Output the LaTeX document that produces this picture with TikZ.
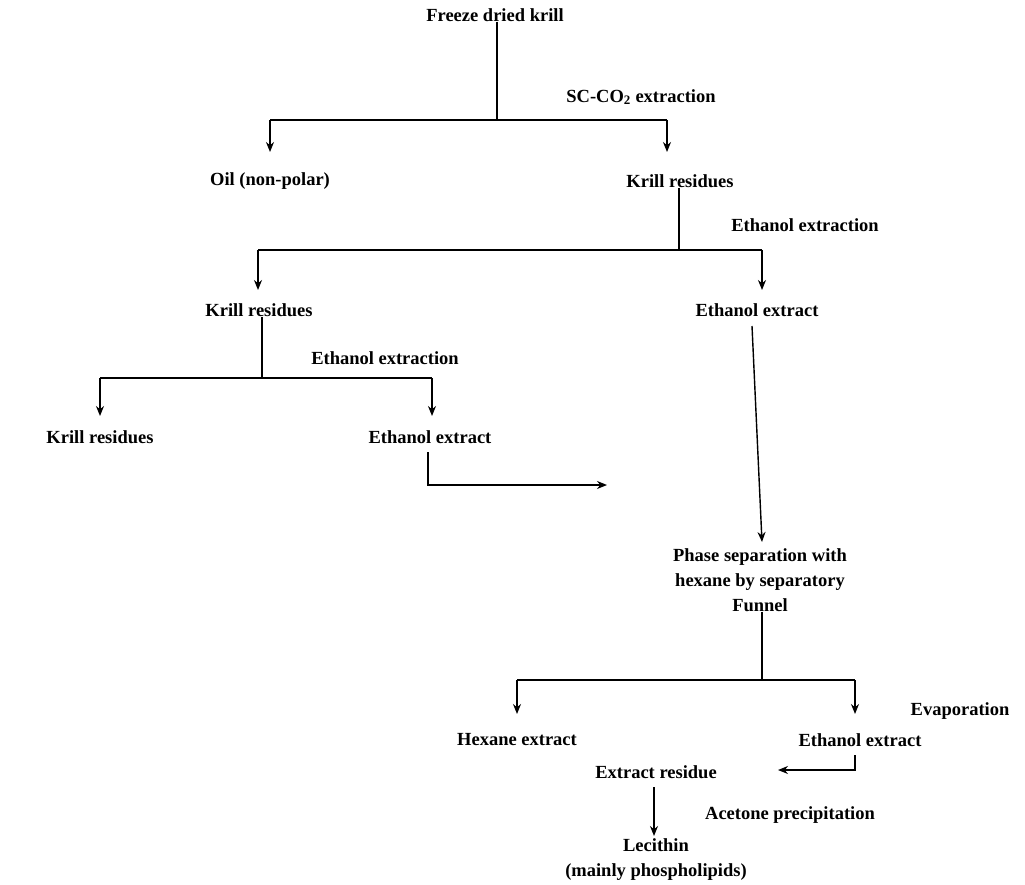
\documentclass[tikz,border=0pt]{standalone}
\usepackage{fontspec}
\setmainfont{Liberation Serif}
\usetikzlibrary{arrows.meta}
\begin{document}
\begin{tikzpicture}[x=1pt,y=-1pt,
 t/.style={font=\fontsize{18.5}{25}\selectfont\bfseries,inner sep=0pt,align=center},
 ln/.style={line width=1.4pt},
 ar/.style={ln,-{Stealth[length=10pt,width=8pt]}}]
\useasboundingbox (0,0) rectangle (1025,885);
\node[t] (a) at (495,15) {Freeze dried krill};
\node[t] (sc) at (641,97) {SC-CO$_\mathbf{2}$ extraction};
\node[t] (oil) at (270,181) {Oil (non-polar)};
\node[t] (kr1) at (680,181) {Krill residues};
\node[t] (e1) at (805,225) {Ethanol extraction};
\node[t] (kr2) at (259,310) {Krill residues};
\node[t] (ee1) at (757,310) {Ethanol extract};
\node[t] (e2) at (385,358) {Ethanol extraction};
\node[t] (kr3) at (100,437) {Krill residues};
\node[t] (ee2) at (430,437) {Ethanol extract};
\node[t] (ps) at (760,580) {Phase separation with\\hexane by separatory\\Funnel};
\node[t] (he) at (517,740) {Hexane extract};
\node[t] (ee3) at (860,740) {Ethanol extract};
\node[t] (ev) at (960,711) {Evaporation};
\node[t] (er) at (656,772) {Extract residue};
\node[t] (ap) at (790,815) {Acetone precipitation};
\node[t] (lc) at (656,860) {Lecithin\\(mainly phospholipids)};
\coordinate (j1) at (497,120);
\draw[ln] (a.south -| j1) -- (j1);
\draw[ln] (270,120) -- (667,120);
\draw[ar] (270,120) -- (270,152);
\draw[ar] (667,120) -- (667,152);
\coordinate (j2) at (679,250);
\draw[ln] (kr1.south -| j2) -- (j2);
\draw[ln] (258,250) -- (762,250);
\draw[ar] (258,250) -- (258,290);
\draw[ar] (762,250) -- (762,290);
\coordinate (j3) at (262,378);
\draw[ln] (kr2.south -| j3) -- (j3);
\draw[ln] (100,378) -- (432,378);
\draw[ar] (100,378) -- (100,416);
\draw[ar] (432,378) -- (432,416);
\draw[ar] (752,326) -- (762,542);
\draw[ar] (428,452) -- (428,485) -- (607,485);
\coordinate (j4) at (762,680);
\draw[ln] (ps.south -| j4) -- (j4);
\draw[ln] (517,680) -- (855,680);
\draw[ar] (517,680) -- (517,714);
\draw[ar] (855,680) -- (855,714);
\draw[ar] (855,755) -- (855,770) -- (778,770);
\draw[ar] (654,787) -- (654,836);
\end{tikzpicture}
\end{document}
